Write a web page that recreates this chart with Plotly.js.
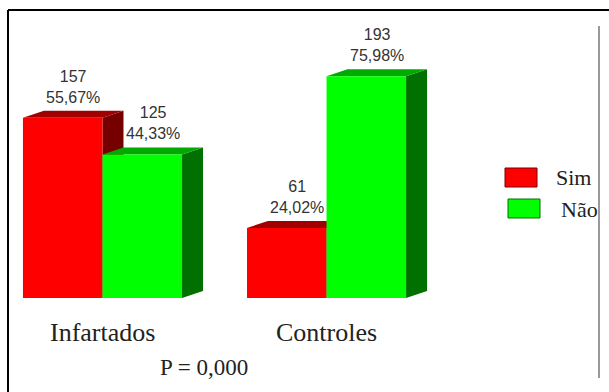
<!DOCTYPE html>
<html>
<head>
<meta charset="utf-8">
<script src="https://cdn.plot.ly/plotly-3.0.1.min.js"></script>
<style>
  html, body { margin: 0; padding: 0; background: #ffffff; }
  #chart { width: 609px; height: 392px; }
</style>
</head>
<body>
<div id="chart"></div>
<script>
// Groups and counts of "Sim" / "Não" answers in each group
const categories = ['Infartados', 'Controles'];
const seriesNames = ['Sim', 'Não'];
const simCounts = [157, 61];
const naoCounts = [125, 193];
const pValueText = 'P = 0,000';

const frontColors = ['#ff0000', '#00ff00'];
const topColors = ['#a00000', '#00aa00'];
const sideColors = ['#760000', '#007000'];

// Page geometry
const W = 609, H = 392;
const margin = { l: 14, r: 19, t: 20, b: 94 };
const plotW = W - margin.l - margin.r;
const plotH = H - margin.t - margin.b;
const xRange = [-0.395, 2.176];
const yRange = [0, 242];
const bargap = 0.29;
const barW = (1 - bargap) / 2;

// Oblique depth of the bars, in pixels, converted to axis units
const depthPx = { x: 21, y: 7 };
const depthX = depthPx.x * (xRange[1] - xRange[0]) / plotW;
const depthY = depthPx.y * (yRange[1] - yRange[0]) / plotH;

const serif = 'Liberation Serif';
const sans = 'Liberation Sans';

const xIdx = categories.map((c, i) => i);
const series = [simCounts, naoCounts];

const traces = series.map((vals, s) => ({
  type: 'bar',
  name: seriesNames[s],
  x: xIdx,
  y: vals,
  marker: { color: frontColors[s], line: { width: 0 } },
  hoverinfo: 'x+y+name',
  showlegend: false
}));

// Top and side faces of each bar, drawn under the front faces, left to right
const shapes = [];
const annotations = [];
const pct = v => v.toFixed(2).replace('.', ',') + '%';

// Pixel position helpers for page-level decorations
const px = p => (p - margin.l) / plotW;
const py = p => (H - margin.b - p) / plotH;

xIdx.forEach(i => {
  const total = simCounts[i] + naoCounts[i];
  series.forEach((vals, s) => {
    const v = vals[i];
    const x0 = i + (s === 0 ? -barW : 0);
    const x1 = x0 + barW;
    shapes.push({
      type: 'path', layer: 'below', xref: 'x', yref: 'y',
      path: `M${x1},0 L${x1 + depthX},${depthY} L${x1 + depthX},${v + depthY} L${x1},${v} Z`,
      fillcolor: sideColors[s], line: { width: 0 }
    });
    shapes.push({
      type: 'path', layer: 'below', xref: 'x', yref: 'y',
      path: `M${x0},${v} L${x1},${v} L${x1 + depthX},${v + depthY} L${x0 + depthX},${v + depthY} Z`,
      fillcolor: topColors[s], line: { width: 0 }
    });
    annotations.push({
      xref: 'x', yref: 'y',
      x: (x0 + x1) / 2 + depthX / 2, y: v,
      xanchor: 'center', yanchor: 'bottom', yshift: 10,
      showarrow: false,
      text: `${v}<br>${pct(100 * v / total)}`,
      font: { family: sans, size: 16, color: '#333333' }
    });
  });
  // Group name under each pair of bars
  annotations.push({
    xref: 'x', yref: 'paper', x: i, y: py(332),
    xanchor: 'center', yanchor: 'middle', showarrow: false,
    text: categories[i],
    font: { family: serif, size: 26, color: '#222' }
  });
});

// Outer frame (top and left edges) and the grey rule on the right
shapes.push({ type: 'line', xref: 'paper', yref: 'paper', x0: px(8), x1: px(620), y0: py(10), y1: py(10), line: { color: '#000', width: 2 } });
shapes.push({ type: 'line', xref: 'paper', yref: 'paper', x0: px(8), x1: px(8), y0: py(10), y1: py(400), line: { color: '#000', width: 2 } });
shapes.push({ type: 'line', xref: 'paper', yref: 'paper', x0: px(599), x1: px(599), y0: py(26), y1: py(378), line: { color: '#9a9a9a', width: 2 } });

// Legend
const legendRows = [
  { box: [505, 168, 537, 187], textX: 554, textY: 177 },
  { box: [508, 199, 540, 218], textX: 559, textY: 209 }
];
seriesNames.forEach((name, s) => {
  const r = legendRows[s];
  shapes.push({
    type: 'rect', xref: 'paper', yref: 'paper',
    x0: px(r.box[0]), x1: px(r.box[2]), y0: py(r.box[1]), y1: py(r.box[3]),
    fillcolor: frontColors[s], line: { color: sideColors[s], width: 1 }
  });
  annotations.push({
    xref: 'paper', yref: 'paper', x: px(r.textX), y: py(r.textY),
    xanchor: 'left', yanchor: 'middle', showarrow: false,
    text: name, font: { family: serif, size: 22, color: '#222' }
  });
});

annotations.push({
  xref: 'paper', yref: 'paper', x: px(204), y: py(367),
  xanchor: 'center', yanchor: 'middle', showarrow: false,
  text: pValueText, font: { family: serif, size: 23, color: '#222' }
});

const layout = {
  width: W, height: H,
  margin: margin,
  font: { family: serif, color: '#222' },
  paper_bgcolor: '#ffffff',
  plot_bgcolor: '#ffffff',
  barmode: 'group',
  bargap: bargap,
  bargroupgap: 0,
  showlegend: false,
  xaxis: {
    type: 'linear', range: xRange, fixedrange: true,
    tickvals: xIdx, ticktext: categories, showticklabels: false,
    showgrid: false, zeroline: false, showline: false, ticks: ''
  },
  yaxis: {
    range: yRange, fixedrange: true,
    visible: false, showgrid: false, zeroline: false
  },
  shapes: shapes,
  annotations: annotations
};

Plotly.newPlot('chart', traces, layout, { displayModeBar: false, staticPlot: true });
</script>
</body>
</html>
